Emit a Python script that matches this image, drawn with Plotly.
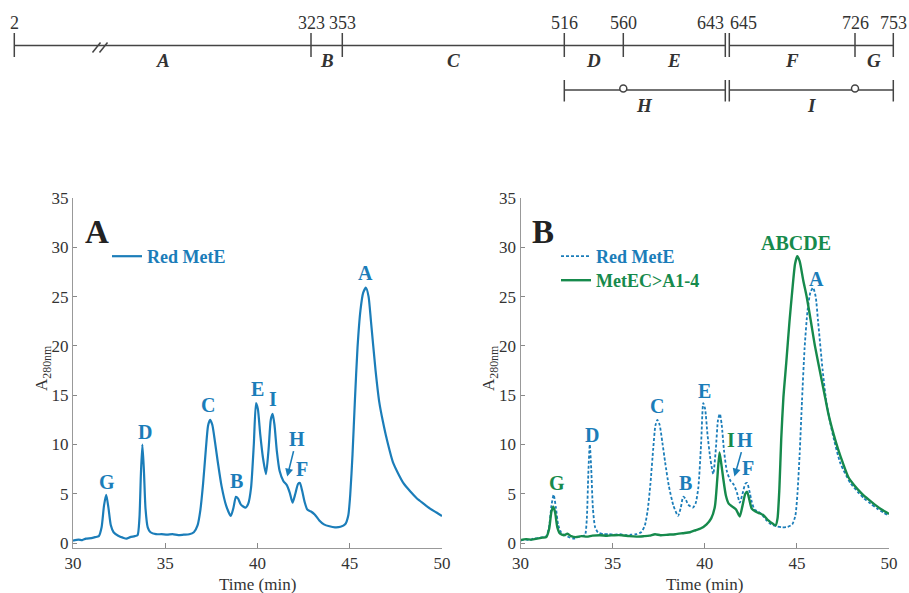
import plotly.graph_objects as go

# ---------------- data ----------------
red_t = [30.0, 30.3, 30.5, 30.7, 31.0, 31.2, 31.4, 31.55, 31.68, 31.8, 31.92, 32.05, 32.2, 32.45, 32.7,
         32.9, 33.1, 33.35, 33.5, 33.6, 33.68, 33.76, 33.84, 33.93, 34.05, 34.2, 34.5, 34.8, 35.1, 35.4,
         35.7, 36.0, 36.3, 36.55, 36.75, 36.9, 37.05, 37.2, 37.32, 37.43, 37.55, 37.7, 37.85, 38.05, 38.3,
         38.55, 38.7, 38.83, 38.95, 39.1, 39.35, 39.5, 39.65, 39.8, 39.92, 40.02, 40.15, 40.3, 40.46, 40.6,
         40.72, 40.82, 40.92, 41.05, 41.2, 41.4, 41.58, 41.75, 41.9, 42.05, 42.2, 42.3, 42.42, 42.55, 42.7,
         42.9, 43.1, 43.35, 43.6, 43.9, 44.2, 44.5, 44.75, 44.92, 45.03, 45.15, 45.28, 45.42, 45.58, 45.73,
         45.88, 46.02, 46.15, 46.4, 46.6, 46.8, 47.0, 47.36, 47.9, 48.3, 48.63, 49.0, 49.35, 49.7, 50.0]
red_a = [0.25, 0.35, 0.3, 0.45, 0.5, 0.6, 0.7, 1.6, 3.8, 4.9, 3.6, 1.8, 1.1, 0.75, 0.55,
         0.45, 0.6, 0.7, 0.8, 2.5, 7.0, 10.0, 7.5, 3.5, 1.6, 1.1, 0.9, 0.9, 0.85, 0.9,
         0.8, 0.85, 0.9, 1.1, 1.8, 3.3, 6.0, 9.5, 11.9, 12.5, 12.0, 10.2, 8.2, 5.8, 3.8,
         2.75, 3.6, 4.7, 4.5, 3.9, 3.6, 4.0, 5.6, 10.0, 14.2, 13.6, 11.0, 8.6, 7.0, 9.5,
         12.5, 13.1, 12.0, 9.3, 7.3, 6.3, 5.9, 5.1, 4.1, 5.0, 6.0, 6.1, 5.3, 4.2, 3.4,
         3.2, 2.9, 2.3, 1.9, 1.7, 1.6, 1.65, 1.9, 2.8, 5.0, 9.0, 14.5, 19.8, 23.6, 25.4,
         25.9, 25.0, 22.5, 17.5, 14.3, 12.3, 10.6, 8.1, 6.1, 5.2, 4.55, 4.0, 3.5, 3.1, 2.75]

green_t = [30.0, 30.3, 30.6, 30.9, 31.2, 31.4, 31.55, 31.68, 31.78, 31.88, 32.0, 32.15, 32.35, 32.55,
           32.75, 33.0, 33.3, 33.6, 33.9, 34.3, 34.7, 35.1, 35.5, 35.9, 36.3, 36.7, 37.0, 37.3, 37.6,
           38.0, 38.4, 38.8, 39.2, 39.5, 39.8, 40.1, 40.35, 40.55, 40.68, 40.8, 40.9, 41.0, 41.15, 41.3,
           41.5, 41.7, 41.9, 42.05, 42.2, 42.3, 42.42, 42.55, 42.75, 43.0, 43.2, 43.45, 43.7, 43.85,
           43.95, 44.05, 44.15, 44.27, 44.42, 44.6, 44.75, 44.9, 45.02, 45.15, 45.35, 45.53, 45.75,
           45.98, 46.34, 46.52, 46.7, 47.0, 47.24, 47.5, 47.79, 48.1, 48.51, 48.9, 49.23, 49.6, 50.0]
green_a = [0.3, 0.4, 0.35, 0.45, 0.55, 0.6, 1.4, 3.2, 3.7, 3.1, 1.6, 0.95, 0.8, 0.95,
           0.7, 0.6, 0.7, 0.65, 0.75, 0.8, 0.75, 0.8, 0.8, 0.7, 0.65, 0.7, 0.75, 0.9, 0.8,
           0.85, 0.9, 1.0, 1.1, 1.3, 1.5, 1.9, 2.5, 3.7, 6.5, 9.2, 8.0, 6.6, 4.8, 4.0,
           3.7, 3.4, 2.7, 3.8, 5.0, 5.2, 4.4, 3.5, 3.2, 3.0, 2.8, 2.3, 1.95, 1.8,
           2.5, 5.5, 10.5, 14.8, 18.2, 22.5, 25.6, 28.3, 29.1, 28.6, 26.6, 25.0, 22.6,
           20.0, 16.6, 14.9, 13.2, 11.0, 9.5, 8.1, 6.7, 5.9, 5.05, 4.4, 3.9, 3.4, 2.95]

y_ticks = [0, 5, 10, 15, 20, 25, 30, 35]
x_ticks = [30, 35, 40, 45, 50]

# peak labels: (text, time, absorbance, colour key)
labels_a = [("G", 31.83, 6.2, "red"), ("D", 33.9, 11.3, "red"), ("C", 37.33, 14.0, "red"),
            ("B", 38.87, 6.3, "red"), ("E", 39.99, 15.6, "red"), ("I", 40.82, 14.6, "red"),
            ("F", 42.4, 7.5, "red"), ("A", 45.88, 27.4, "red")]
labels_b = [("G", 31.96, 6.1, "green"), ("D", 33.9, 11.0, "red"), ("C", 37.39, 13.9, "red"),
            ("B", 38.93, 6.1, "red"), ("E", 40.01, 15.4, "red"), ("I", 41.45, 10.5, "green"),
            ("F", 42.36, 7.6, "red"), ("ABCDE", 44.95, 30.4, "green"), ("A", 46.07, 26.8, "red")]
# H arrow target (time, absorbance)
h_target = (41.61, 6.74)

# schematic of domains (residue numbers)
residue_bounds = [2, 323, 353, 516, 560, 643, 645, 726, 753]
upper_segments = [("A", 2, 323), ("B", 323, 353), ("C", 353, 516), ("D", 516, 560),
                  ("E", 560, 643), ("F", 645, 726), ("G", 726, 753)]
lower_segments = [("H", 516, 643, 560), ("I", 645, 753, 726)]

# ---------------- layout helpers ----------------
W, H = 909, 593
BLUE = "#1b7db9"
GREEN = "#168a4c"
COL = {"red": BLUE, "green": GREEN}
SERIF = "Liberation Serif, Times New Roman, serif"
INK = "#333333"

# display position of each residue boundary in the schematic (schematic is not to scale)
bound_px = {2: 14.3, 323: 311, 353: 342.3, 516: 564.3, 560: 623.3, 643: 725.3,
            645: 729.3, 726: 855, 753: 893.3}

fig = go.Figure()

fig.add_trace(go.Scatter(x=red_t, y=red_a, mode="lines", name="Red MetE",
                         line=dict(color=BLUE, width=2.2, shape="spline", smoothing=0.6),
                         xaxis="x", yaxis="y", legend="legend"))
fig.add_trace(go.Scatter(x=red_t, y=red_a, mode="lines", name="Red MetE",
                         line=dict(color=BLUE, width=1.8, dash="3px,2px", shape="spline", smoothing=0.6),
                         xaxis="x2", yaxis="y2", legend="legend2"))
fig.add_trace(go.Scatter(x=green_t, y=green_a, mode="lines", name="MetEC&gt;A1-4",
                         line=dict(color=GREEN, width=2.4, shape="spline", smoothing=0.6),
                         xaxis="x2", yaxis="y2", legend="legend3"))

ROW1, ROW2 = 45.5, 90.0
LINEC = "#444444"
sx, sy = [], []
for a, b in [(2, 643), (645, 753)]:
    sx += [bound_px[a], bound_px[b], None]
    sy += [ROW1, ROW1, None]
for r in residue_bounds:
    sx += [bound_px[r], bound_px[r], None]
    sy += [ROW1 - 12.5, ROW1 + 11.5, None]
for name, a, b, mid in lower_segments:
    sx += [bound_px[a], bound_px[b], None]
    sy += [ROW2, ROW2, None]
    for r in (a, b):
        sx += [bound_px[r], bound_px[r], None]
        sy += [ROW2 - 10, ROW2 + 11.5, None]
for off in (0, 7):
    sx += [92.5 + off, 100.5 + off, None]
    sy += [52.5, 42.5, None]
fig.add_trace(go.Scatter(x=sx, y=sy, mode="lines", line=dict(color=LINEC, width=1.5),
                         xaxis="x3", yaxis="y3", showlegend=False, hoverinfo="skip"))
fig.add_trace(go.Scatter(x=[bound_px[s[3]] for s in lower_segments], y=[ROW2 - 1.5] * len(lower_segments),
                         mode="markers", marker=dict(symbol="circle", size=7, color="white",
                                                      line=dict(color=LINEC, width=1.5)),
                         xaxis="x3", yaxis="y3", showlegend=False, hoverinfo="skip"))

ann = []
for r in residue_bounds:
    xa = "center"
    xp = bound_px[r]
    if r == 643:
        xa, xp = "right", bound_px[r] + 1
    elif r == 645:
        xa, xp = "left", bound_px[r] - 1
    ann.append(dict(x=xp, y=23, xref="x3", yref="y3", text=str(r), showarrow=False,
                    xanchor=xa, yanchor="middle", font=dict(family=SERIF, size=18, color=INK)))
for name, a, b in upper_segments:
    ann.append(dict(x=(bound_px[a] + bound_px[b]) / 2, y=60, xref="x3", yref="y3",
                    text="<b><i>%s</i></b>" % name, showarrow=False, yanchor="middle",
                    font=dict(family=SERIF, size=19, color=INK)))
for name, a, b, mid in lower_segments:
    ann.append(dict(x=(bound_px[a] + bound_px[b]) / 2, y=105, xref="x3", yref="y3",
                    text="<b><i>%s</i></b>" % name, showarrow=False, yanchor="middle",
                    font=dict(family=SERIF, size=19, color=INK)))

for (labs, xr, yr) in [(labels_a, "x", "y"), (labels_b, "x2", "y2")]:
    for text, t, a, c in labs:
        ann.append(dict(x=t, y=a, xref=xr, yref=yr, text="<b>%s</b>" % text, showarrow=False,
                        xanchor="center", yanchor="middle",
                        font=dict(family=SERIF, size=20, color=COL[c])))
for xr, yr, ax, ay in [("x", "y", 9.5, -38), ("x2", "y2", 10.5, -37)]:
    ann.append(dict(x=h_target[0], y=h_target[1], xref=xr, yref=yr, text="<b>H</b>",
                    showarrow=True, ax=ax, ay=ay, arrowhead=2, arrowsize=1, arrowwidth=1.6,
                    arrowcolor=BLUE, standoff=0, font=dict(family=SERIF, size=20, color=BLUE)))
for txt, px in [("A", 96.7), ("B", 543.3)]:
    ann.append(dict(x=px / W, y=1 - 231.7 / H, xref="paper", yref="paper", text="<b>%s</b>" % txt,
                    showarrow=False, xanchor="center", yanchor="middle",
                    font=dict(family=SERIF, size=33, color="#222222")))
for px in (43, 490):
    ann.append(dict(x=px / W, y=1 - 368 / H, xref="paper", yref="paper",
                    text="A<sub>280nm</sub>", textangle=-90, showarrow=False,
                    xanchor="center", yanchor="middle", font=dict(family=SERIF, size=17, color=INK)))
for xd in ("x domain", "x2 domain"):
    ann.append(dict(x=0.5, y=1 - 584 / H, xref=xd, yref="paper", text="Time (min)", showarrow=False,
                    xanchor="center", yanchor="middle", font=dict(family=SERIF, size=17, color=INK)))

ydom = [1 - 548 / H, 1 - 198 / H]
xaxis_common = dict(range=[30, 50], tickvals=x_ticks, ticks="inside", ticklen=5, tickcolor="#888",
                    showline=True, linecolor="#999", linewidth=1, showgrid=False, zeroline=False,
                    tickfont=dict(family=SERIF, size=17, color=INK), fixedrange=True, automargin=False)
yaxis_common = dict(range=[-0.5, 35], tickvals=y_ticks, ticks="inside", ticklen=4, tickcolor="#888",
                    showline=True, linecolor="#999", linewidth=1, showgrid=False, zeroline=False,
                    tickfont=dict(family=SERIF, size=17, color=INK), domain=ydom, fixedrange=True,
                    automargin=False)


def legend_at(xpx, ypx, color):
    return dict(x=xpx / W, y=1 - ypx / H, xanchor="left", yanchor="top",
                font=dict(family=SERIF, size=18, weight="bold", color=color),
                bgcolor="rgba(0,0,0,0)", tracegroupgap=0)


fig.update_layout(
    width=W, height=H, autosize=False,
    margin=dict(l=0, r=0, t=0, b=0, pad=0, autoexpand=False),
    paper_bgcolor="white", plot_bgcolor="white",
    xaxis=dict(domain=[73 / W, 442 / W], anchor="y", **xaxis_common),
    yaxis=dict(anchor="x", **yaxis_common),
    xaxis2=dict(domain=[520.5 / W, 889 / W], anchor="y2", **xaxis_common),
    yaxis2=dict(anchor="x2", **yaxis_common),
    xaxis3=dict(domain=[0, 1], range=[0, W], visible=False, anchor="y3", fixedrange=True),
    yaxis3=dict(domain=[1 - 130 / H, 1], range=[130, 0], visible=False, anchor="x3", fixedrange=True),
    legend=legend_at(107, 238, BLUE),
    legend2=legend_at(556, 238, BLUE),
    legend3=legend_at(556, 262, GREEN),
    annotations=ann,
    showlegend=True,
)

fig.write_html("out.html", config={"responsive": False},
               post_script="document.body.style.margin='0';document.body.style.overflow='hidden';")
